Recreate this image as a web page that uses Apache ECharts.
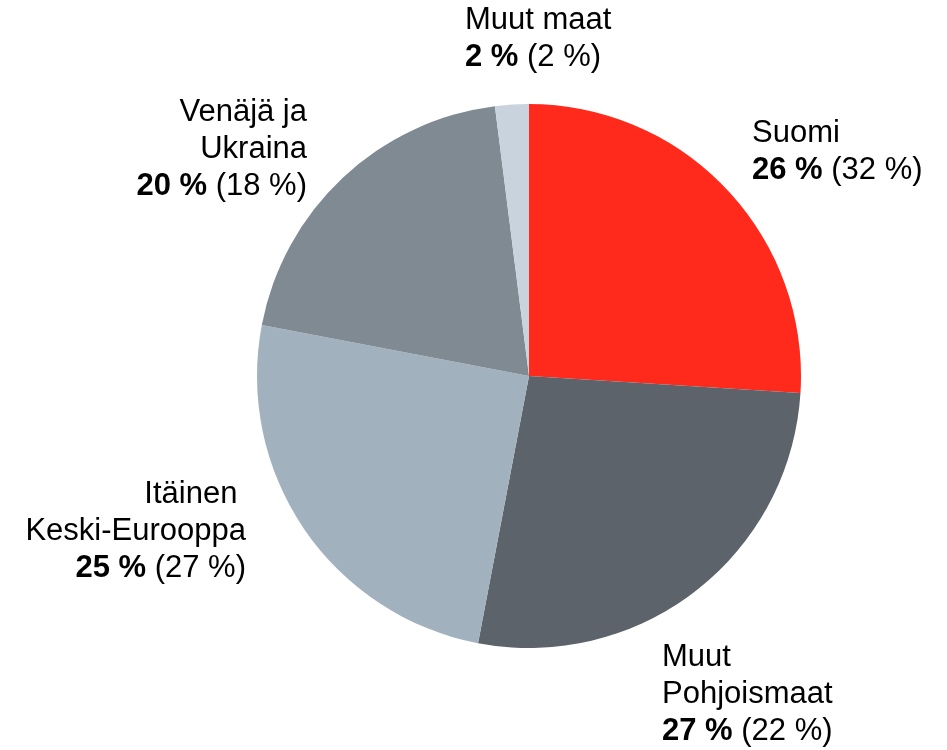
<!DOCTYPE html>
<html>
<head>
<meta charset="utf-8">
<script src="https://cdn.jsdelivr.net/npm/echarts@6/dist/echarts.min.js"></script>
<style>html,body{margin:0;padding:0;background:#fff;}#c{width:947px;height:750px;}</style>
</head>
<body>
<div id="c"></div>
<script>
const categories = ["Suomi", "Muut\nPohjoismaat", "Itäinen \nKeski-Eurooppa", "Venäjä ja\nUkraina", "Muut maat"];
const shares = [26, 27, 25, 20, 2];
const previousShares = [32, 22, 27, 18, 2];
const colors = ["#FF2A1B", "#5C636B", "#A2B1BE", "#7F8A93", "#C8D3DD"];

// label anchor placement per slice (x, y of text block, alignment)
const labelPlacement = [
  { x: 752, y: 152, align: "left" },
  { x: 662, y: 694, align: "left" },
  { x: 246, y: 531, align: "right" },
  { x: 307, y: 149, align: "right" },
  { x: 465, y: 39, align: "left" }
];

const FONT = 'Liberation Sans, Arial, sans-serif';
const chart = echarts.init(document.getElementById('c'), null, { renderer: 'canvas' });
chart.setOption({
  animation: false,
  backgroundColor: '#ffffff',
  textStyle: { fontFamily: FONT },
  series: [{
    type: 'pie',
    center: [529, 376],
    radius: 272,
    startAngle: 90,
    clockwise: true,
    avoidLabelOverlap: false,
    itemStyle: { borderWidth: 0 },
    emphasis: { disabled: true },
    labelLine: { show: false },
    label: {
      show: true,
      position: 'outside',
      fontFamily: FONT,
      fontSize: 31,
      lineHeight: 37,
      color: '#000',
      formatter: function (p) {
        return p.name + '\n{b|' + shares[p.dataIndex] + ' %} (' + previousShares[p.dataIndex] + ' %)';
      },
      rich: {
        b: { fontWeight: 'bold', fontSize: 31, lineHeight: 37, color: '#000', fontFamily: FONT }
      }
    },
    labelLayout: function (params) {
      const pl = labelPlacement[params.dataIndex];
      return { x: pl.x, y: pl.y, align: pl.align, verticalAlign: 'middle', hideOverlap: false };
    },
    data: categories.map((c, i) => ({
      name: c,
      value: shares[i],
      itemStyle: { color: colors[i] },
      label: { align: labelPlacement[i].align }
    }))
  }]
});
</script>
</body>
</html>
